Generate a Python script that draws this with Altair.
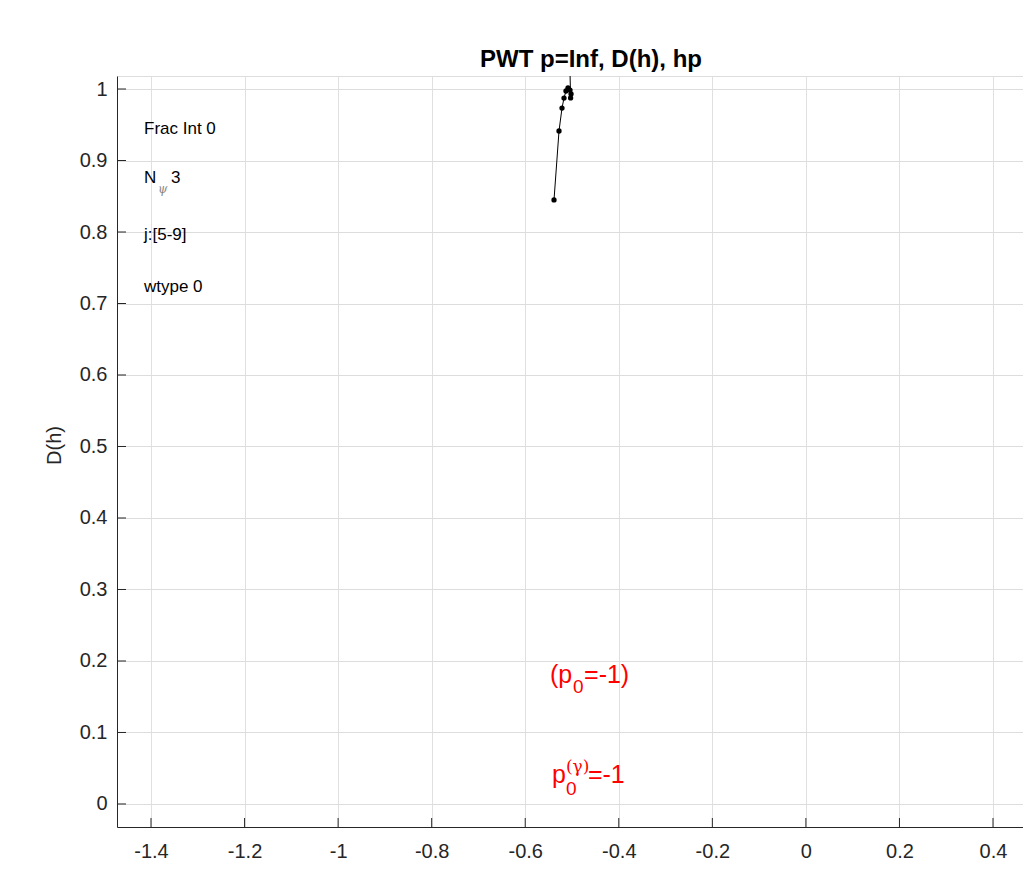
import altair as alt
import pandas as pd

# data (D(h) spectrum)
h_vals = [-0.5385, -0.5278, -0.5214, -0.5171, -0.5129, -0.5086, -0.5043, -0.5021, -0.5030, -0.5070]
D_vals = [0.8448, 0.9413, 0.9734, 0.9873, 0.9972, 1.0014, 0.9985, 0.9930, 0.9875, 1.1000]

x_ticks = [-1.4, -1.2, -1, -0.8, -0.6, -0.4, -0.2, 0, 0.2, 0.4]
y_ticks = [0, 0.1, 0.2, 0.3, 0.4, 0.5, 0.6, 0.7, 0.8, 0.9, 1]
x_domain = [-1.4727, 0.4641]
y_domain = [-0.0322, 1.0182]

title_text = "PWT p=Inf, D(h), hp"
y_title = "D(h)"

# black info annotations (data coordinates)
info_text = ["Frac Int 0", "N", "j:[5-9]", "wtype 0"]
info_x = [-1.415, -1.415, -1.415, -1.415]
info_y = [0.937, 0.8685, 0.789, 0.716]

W, H = 906, 751
FONT = "Liberation Sans"
DARK = "#262626"
RED = "#ff0000"

df = pd.DataFrame({"h": h_vals, "D": D_vals})

xs = alt.Scale(domain=x_domain, nice=False, zero=False)
ys = alt.Scale(domain=y_domain, nice=False, zero=False)

x_axis = alt.Axis(values=x_ticks, grid=True, ticks=False, labelExpr="'' + datum.value",
                  labelFontSize=20, labelFont=FONT, labelColor=DARK, labelPadding=14,
                  domainColor=DARK, title=None, gridColor="#e0e0e0")
y_axis = alt.Axis(values=y_ticks, grid=True, ticks=False, labelExpr="'' + datum.value",
                  labelFontSize=20, labelFont=FONT, labelColor=DARK, labelPadding=10,
                  domainColor=DARK, title=y_title, titleFont=FONT, titleFontSize=20,
                  titleFontWeight="normal", titleColor=DARK, titleAngle=-90,
                  titleX=-63, titleY=369, titleBaseline="middle", titleAlign="center")

base = alt.Chart(df)

line = base.mark_line(color="black", strokeWidth=1, clip=True).encode(
    x=alt.X("h:Q", scale=xs, axis=x_axis),
    y=alt.Y("D:Q", scale=ys, axis=y_axis),
    order=alt.Order("idx:Q"),
).transform_window(idx="row_number()")

pts = base.mark_circle(color="black", size=28, opacity=1, clip=True).encode(
    x=alt.X("h:Q", scale=xs),
    y=alt.Y("D:Q", scale=ys),
)

# inward tick marks
yt = alt.Chart(pd.DataFrame({"v": y_ticks})).mark_rule(color=DARK, strokeWidth=1).encode(
    y=alt.Y("v:Q", scale=ys), x=alt.value(0), x2=alt.value(9))
xt = alt.Chart(pd.DataFrame({"v": x_ticks})).mark_rule(color=DARK, strokeWidth=1).encode(
    x=alt.X("v:Q", scale=xs), y=alt.value(H), y2=alt.value(H - 9))

info_df = pd.DataFrame({"t": info_text, "x": info_x, "y": info_y})
info = alt.Chart(info_df).mark_text(align="left", baseline="alphabetic", font=FONT,
                                    fontSize=17, color="black").encode(
    x=alt.X("x:Q", scale=xs), y=alt.Y("y:Q", scale=ys), text="t:N")

psi_df = pd.DataFrame({"t": ["\u03c8"], "x": [info_x[1]], "y": [info_y[1]]})
psi = alt.Chart(psi_df).mark_text(align="left", baseline="alphabetic", font="DejaVu Serif",
                                  fontSize=12, fontStyle="italic", color="#888888", dx=14, dy=10).encode(
    x=alt.X("x:Q", scale=xs), y=alt.Y("y:Q", scale=ys), text="t:N")
three_df = pd.DataFrame({"t": ["3"], "x": [info_x[1]], "y": [info_y[1]]})
three = alt.Chart(three_df).mark_text(align="left", baseline="alphabetic", font=FONT,
                                      fontSize=17, color="black", dx=27).encode(
    x=alt.X("x:Q", scale=xs), y=alt.Y("y:Q", scale=ys), text="t:N")

# red annotations
r1x, r1y = -0.547, 0.169
r2x, r2y = -0.543, 0.0294


def red(t, x, y, size, dx=0, dy=0, font=FONT):
    d = pd.DataFrame({"t": [t], "x": [x], "y": [y]})
    return alt.Chart(d).mark_text(align="left", baseline="alphabetic", font=font,
                                  fontSize=size, color=RED, dx=dx, dy=dy).encode(
        x=alt.X("x:Q", scale=xs), y=alt.Y("y:Q", scale=ys), text="t:N")


reds = [
    red("(p", r1x, r1y, 25),
    red("0", r1x, r1y, 19, dx=23, dy=10),
    red("=-1)", r1x, r1y, 25, dx=34),
    red("p", r2x, r2y, 25),
    red("0", r2x, r2y, 19, dx=14, dy=12),
    red("(\u03b3)", r2x, r2y, 17, dx=14, dy=-11, font="DejaVu Serif"),
    red("=-1", r2x, r2y, 25, dx=36),
]

chart = alt.layer(line, pts, yt, xt, info, psi, three, *reds).properties(
    width=W, height=H,
    title=alt.TitleParams(title_text, anchor="middle", dx=21, dy=26, baseline="alphabetic", offset=11,
                          font=FONT, fontSize=24, fontWeight="bold", color="black"),
    autosize=alt.AutoSizeParams(type="none"),
    padding={"left": 109, "top": 68, "right": 0, "bottom": 38},
).configure_view(stroke=None).configure(background="white")

chart.save("out.html", embed_options={"renderer": "svg", "actions": False})
